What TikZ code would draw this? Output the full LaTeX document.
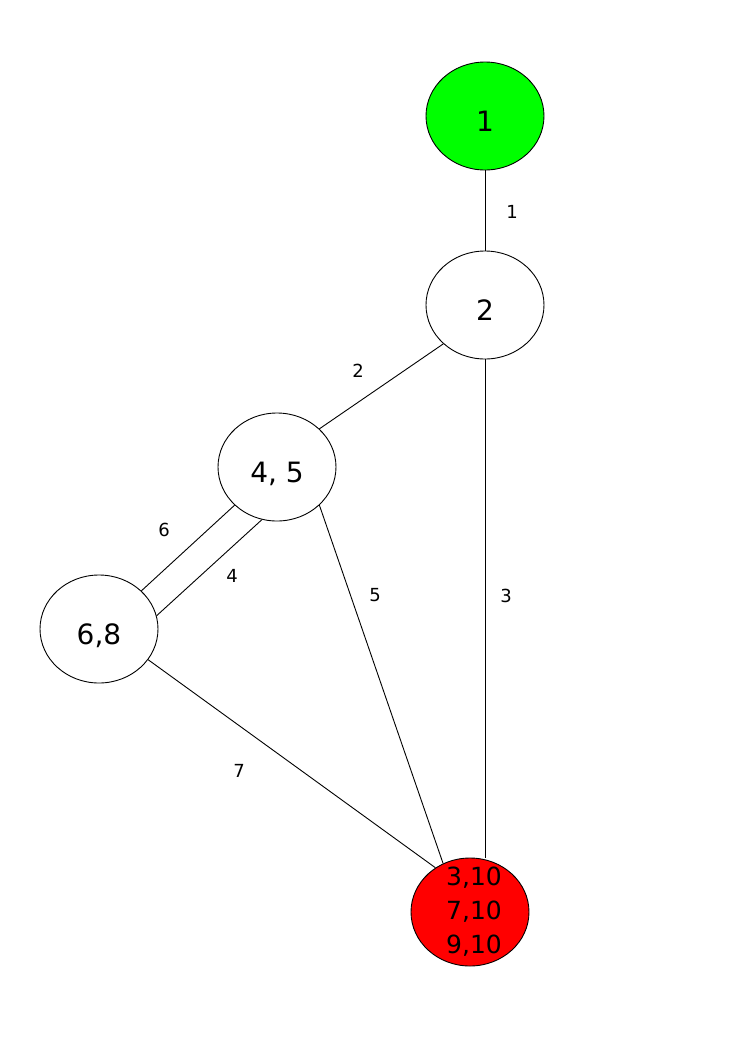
\documentclass[tikz,border=0pt]{standalone}
\usepackage{fontspec}
\setmainfont{DejaVu Sans}
\usepackage{tikz}
\usetikzlibrary{shapes.geometric}
\newcommand{\nodewidth}{118pt}
\newcommand{\nodeheight}{108pt}
\definecolor{startgreen}{RGB}{0,255,0}
\definecolor{endred}{RGB}{255,0,0}
\tikzset{
  x=1pt,y=1pt,
  state/.style={draw,fill=white,shape=ellipse,minimum width=\nodewidth,minimum height=\nodeheight,inner sep=0,line width=0.9pt,text height=30pt,text depth=0pt,font=\fontsize{28}{30}\selectfont},
  start/.style={state,fill=startgreen},
  final/.style={state,fill=endred},
  edge/.style={draw,line width=0.9pt},
  weight/.style={font=\fontsize{18}{20}\selectfont}
}
\begin{document}
\begin{tikzpicture}
    \useasboundingbox (0,0) rectangle (745,-1053);

    \node (s1) [start] at (485,-116) {1};
    \node (s2) [state] at (485,-305) {2};
    \node (s45) [state] at (277,-467) {4, 5};
    \node (s68) [state] at (99,-629) {6,8};
    \node (s10) [final,label={[align=center,font=\fontsize{25}{34}\selectfont,xshift=4pt]center:3,10\\7,10\\9,10}] at (470,-912) {};

    \path [edge] (s1.south) -- (s2.north);
    \path [edge] (s2.223) -- (s45.42);
    \path [edge] (s2.south) -- (s2.south |- s10.north);
    \path [edge] (s45.222) -- (s68.42);
    \path [edge] (s45.254) -- (s68.13);
    \path [edge] (s45.318) -- (s10.119);
    \path [edge] (s68.328) -- (s10.128);

    \node (w1) [weight] at (512,-212) {1};
    \node (w2) [weight] at (358,-371) {2};
    \node (w3) [weight] at (506,-596) {3};
    \node (w4) [weight] at (232,-576) {4};
    \node (w5) [weight] at (375,-595) {5};
    \node (w6) [weight] at (164,-530) {6};
    \node (w7) [weight] at (239,-771) {7};
  \end{tikzpicture}
\end{document}
